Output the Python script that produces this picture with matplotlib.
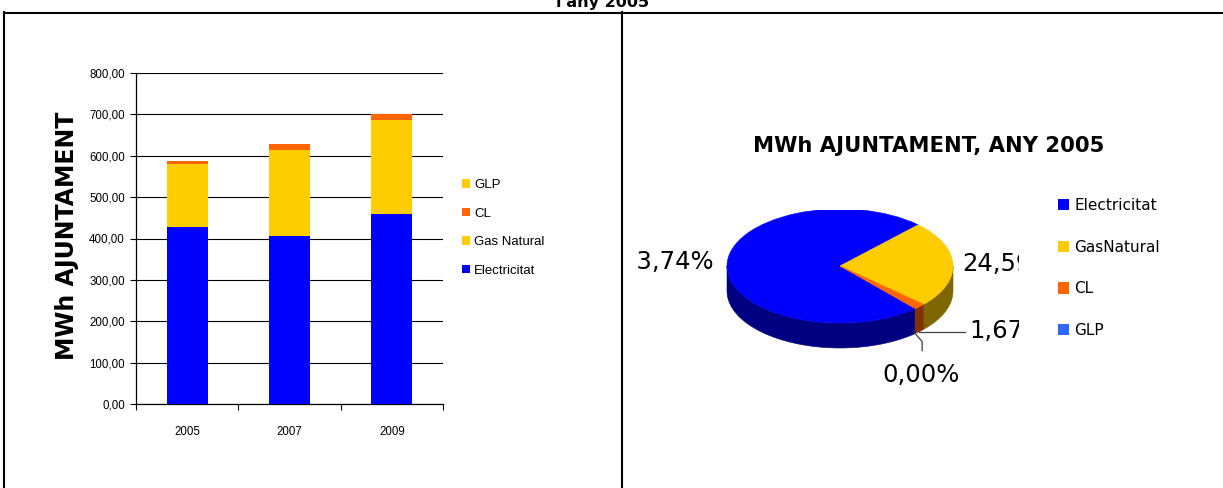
import numpy as np
import matplotlib
matplotlib.use("Agg")
import matplotlib.pyplot as plt
from matplotlib.patches import Wedge, Polygon, Patch
from matplotlib.transforms import Affine2D
from matplotlib.lines import Line2D
from matplotlib.ticker import FuncFormatter

# =====================================================
# DADES
# =====================================================

anys = ["2005", "2007", "2009"]
electricitat = [428, 406, 459]
gas_natural = [152, 208, 228]
cl = [7, 14, 13]
glp = [0, 0, 0]

pie_labels = ["Electricitat", "GasNatural", "CL", "GLP"]
pie_pct = [73.74, 24.59, 1.67, 0.00]

COL_ELEC = "#0000FF"
COL_GAS = "#FFCC00"
COL_CL = "#FF6600"
COL_GLP_BAR = "#FFCC00"
COL_GLP_PIE = "#3366FF"

W, H = 1223, 488


def px_rect(x0, y0, x1, y1):
    """Rectangle in pixel coords (origin top-left) -> figure fraction."""
    return [x0 / W, 1 - y1 / H, (x1 - x0) / W, (y1 - y0) / H]


def fmt_coma(v, pos=None):
    return f"{v:.2f}".replace(".", ",")


fig = plt.figure(figsize=(W / 100, H / 100), dpi=100)
fig.patch.set_facecolor("white")

# =====================================================
# MARCS DE LA TAULA
# =====================================================

for xs, ys in [([4, W], [12.5, 12.5]), ([4, 4], [12, H]), ([622, 622], [12, H])]:
    fig.add_artist(Line2D([x / W for x in xs], [1 - y / H for y in ys],
                          color="black", lw=1.5))

# títol de la taula, tallat a la part superior com a l'original
fig.text(603 / W, 1 - 6.5 / H, "l'any 2005", ha="center", va="baseline",
         fontsize=11.5, fontweight="bold", family="DejaVu Sans")

# =====================================================
# GRÀFIC DE BARRES
# =====================================================

ax1 = fig.add_axes(px_rect(136, 73, 443, 404))
x = np.arange(len(anys))
amp = 0.4
base = np.zeros(len(anys))
series = [
    (electricitat, COL_ELEC, "Electricitat"),
    (gas_natural, COL_GAS, "Gas Natural"),
    (cl, COL_CL, "CL"),
    (glp, COL_GLP_BAR, "GLP"),
]
for vals, col, nom in series:
    ax1.bar(x, vals, amp, bottom=base, color=col, zorder=3, label=nom)
    base = base + np.array(vals)

ax1.set_xlim(-0.5, 2.5)
ax1.set_ylim(0, 800)
ax1.set_yticks(np.arange(0, 801, 100))
ax1.yaxis.set_major_formatter(FuncFormatter(fmt_coma))
ax1.grid(axis="y", color="black", lw=0.8, zorder=0)
for s in ["top", "right"]:
    ax1.spines[s].set_visible(False)
ax1.spines["left"].set_linewidth(0.9)
ax1.spines["bottom"].set_linewidth(0.9)
ax1.tick_params(axis="y", length=4, width=0.8, pad=4, labelsize=8.3,
                labelfontfamily="Liberation Sans")
ax1.set_xticks(np.arange(-0.5, 2.6, 1))
ax1.set_xticklabels([])
ax1.tick_params(axis="x", which="major", length=4, width=0.8)
ax1.set_xticks(x, minor=True)
ax1.set_xticklabels(anys, minor=True)
ax1.tick_params(axis="x", which="minor", length=0, pad=16, labelsize=8.3,
                labelfontfamily="Liberation Sans")

fig.text(67 / W, 1 - 236 / H, "MWh AJUNTAMENT", rotation=90, ha="center",
         va="center", fontsize=17, fontweight="bold", family="DejaVu Sans")

h, l = ax1.get_legend_handles_labels()
fig.legend(h[::-1], l[::-1], loc="center left",
           bbox_to_anchor=(462 / W, 1 - 228 / H), frameon=False,
           prop={"family": "Liberation Sans", "size": 9.5},
           handlelength=0.6, handleheight=0.6, handletextpad=0.3,
           labelspacing=1.25, borderpad=0, borderaxespad=0)

# =====================================================
# GRÀFIC DE SECTORS 3D
# =====================================================

ax2 = fig.add_axes(px_rect(637, 210, 1019, 420))
ax2.set_xlim(637, 1019)
ax2.set_ylim(H - 420, H - 210)
ax2.axis("off")

cx, cy = 840, H - 266
rx, ry, prof = 113, 57, 25
d = prof / ry
tr = Affine2D().scale(rx, ry).translate(cx, cy) + ax2.transData

cols_top = [COL_ELEC, COL_GAS, COL_CL, COL_GLP_PIE]
cols_side = ["#000080", "#806600", "#803300", "#1a3380"]

inici = -48.3
angles = []
a = inici
for p in pie_pct:
    a2 = a - 360 * p / 100.0
    angles.append((a2, a))
    a = a2

# parets laterals (meitat frontal)
for (a1, a2), col in zip(angles, cols_side):
    for k in range(-2, 3):
        lo = max(a1, -180 + 360 * k)
        hi = min(a2, 360 * k)
        if hi - lo <= 0:
            continue
        t = np.radians(np.linspace(lo, hi, 60))
        top = np.column_stack([np.cos(t), np.sin(t)])
        bot = np.column_stack([np.cos(t[::-1]), np.sin(t[::-1]) - d])
        ax2.add_patch(Polygon(np.vstack([top, bot]), closed=True,
                              facecolor=col, edgecolor=col, lw=0.4,
                              transform=tr))

# cara superior
for (a1, a2), col in zip(angles, cols_top):
    if a2 - a1 <= 0:
        continue
    ax2.add_patch(Wedge((0, 0), 1, a1, a2, facecolor=col, edgecolor=col,
                        lw=0.4, transform=tr))


def etiqueta(v):
    return f"{v:.2f}%".replace(".", ",")


kw = dict(fontsize=17.5, family="DejaVu Sans", va="center", clip_on=True)
ax2.text(714, H - 262, etiqueta(pie_pct[0]), ha="right", **kw)
ax2.text(962, H - 264, etiqueta(pie_pct[1]), ha="left", **kw)

# línies guia per CL i GLP
mid_cl = np.radians(np.mean(angles[2]))
p_cl = (cx + rx * np.cos(mid_cl), cy + ry * (np.sin(mid_cl) - d))
ax2.plot([p_cl[0], 965], [p_cl[1], p_cl[1]], color="#404040", lw=0.9)
ax2.text(969, p_cl[1] + 1, etiqueta(pie_pct[2]), ha="left", **kw)

a_glp = np.radians(angles[3][1])
p_glp = (cx + rx * np.cos(a_glp), cy + ry * (np.sin(a_glp) - d))
ax2.plot([p_glp[0], p_glp[0] + 7, p_glp[0] + 7],
         [p_glp[1], p_glp[1] - 8, p_glp[1] - 17], color="#404040", lw=0.9)
ax2.text(882, H - 375, etiqueta(pie_pct[3]), ha="left", **kw)

fig.text(929 / W, 1 - 146 / H, "MWh AJUNTAMENT, ANY 2005", ha="center",
         va="center", fontsize=15.2, fontweight="bold", family="DejaVu Sans")

handles = [Patch(facecolor=c, edgecolor="none") for c in cols_top]
fig.legend(handles, pie_labels, loc="center left",
           bbox_to_anchor=(1058 / W, 1 - 268 / H), frameon=False,
           prop={"family": "DejaVu Sans", "size": 11},
           handlelength=0.75, handleheight=0.75, handletextpad=0.3,
           labelspacing=1.75, borderpad=0, borderaxespad=0)

fig.savefig("out.png", dpi=100, facecolor="white")
